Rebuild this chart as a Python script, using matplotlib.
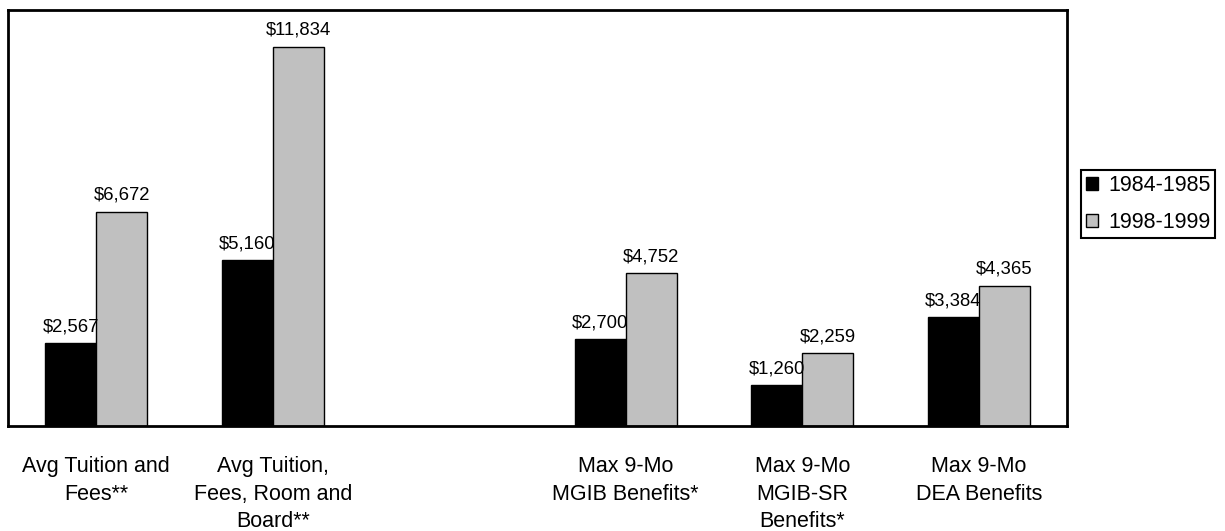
import numpy as np
import matplotlib.pyplot as plt

plt.rcParams['font.family'] = ['Liberation Sans', 'DejaVu Sans']

# categories (one empty slot between the cost groups and the benefit groups)
categories = ["Avg Tuition and\nFees**",
              "Avg Tuition,\nFees, Room and\nBoard**",
              "",
              "Max 9-Mo\nMGIB Benefits*",
              "Max 9-Mo\nMGIB-SR\nBenefits*",
              "Max 9-Mo\nDEA Benefits"]
years = ["1984-1985", "1998-1999"]
vals_1984 = [2567, 5160, np.nan, 2700, 1260, 3384]
vals_1998 = [6672, 11834, np.nan, 4752, 2259, 4365]

fig = plt.figure(figsize=(12.25, 5.31), dpi=100)
ax = fig.add_axes([8 / 1225, 1 - 425.5 / 531, 1059 / 1225, 416 / 531])

x = np.arange(len(categories))
w = 0.29
b1 = ax.bar(x - w / 2, vals_1984, w, color="black", edgecolor="black", linewidth=1, label=years[0])
b2 = ax.bar(x + w / 2, vals_1998, w, color="#c0c0c0", edgecolor="black", linewidth=1, label=years[1])

for bars, vals in [(b1, vals_1984), (b2, vals_1998)]:
    for rect, v in zip(bars, vals):
        if np.isnan(v):
            continue
        ax.text(rect.get_x() + rect.get_width() / 2, v + 250, f"${v:,.0f}",
                ha="center", va="bottom", fontsize=13.3)

ax.set_xlim(-0.5, len(categories) - 0.5)
ax.set_ylim(0, 13000)
ax.set_yticks([])
ax.set_xticks(x)
ax.set_xticklabels(categories, fontsize=15.5, linespacing=1.42, va="top")
ax.tick_params(axis="x", length=0, pad=22)
for s in ax.spines.values():
    s.set_linewidth(2)
    s.set_color("black")

leg = ax.legend(loc="upper left", bbox_to_anchor=(1081 / 1225, 1 - 170 / 531),
                bbox_transform=fig.transFigure, borderaxespad=0, fontsize=15.5,
                fancybox=False, edgecolor="black", framealpha=1,
                handlelength=0.55, handleheight=0.55, handletextpad=0.5,
                borderpad=0.22, labelspacing=0.75)
leg.get_frame().set_linewidth(1.5)

fig.savefig("out.png", dpi=100)
